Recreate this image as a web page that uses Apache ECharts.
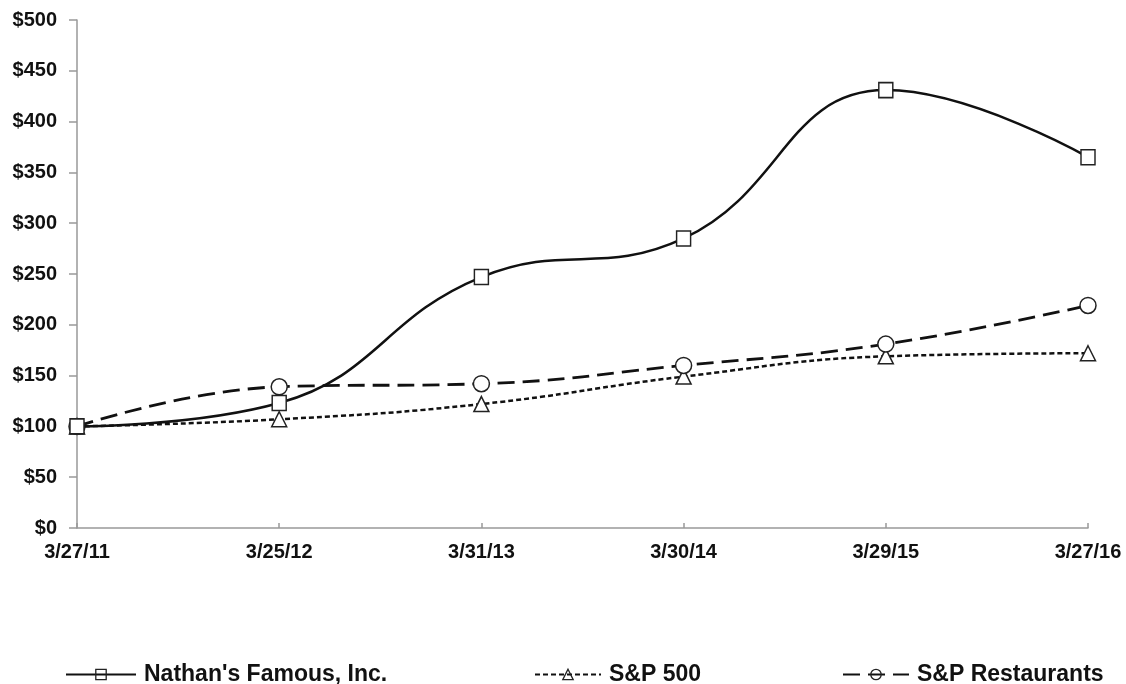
<!DOCTYPE html>
<html><head><meta charset="utf-8">
<script src="https://cdn.jsdelivr.net/npm/echarts@6/dist/echarts.min.js"></script>
<style>html,body{margin:0;padding:0;background:#fff}#c{width:1126px;height:684px}</style>
</head><body><div id="c"></div>
<script>
const categories = ['3/27/11','3/25/12','3/31/13','3/30/14','3/29/15','3/27/16'];
const nathans = [100, 123, 247, 285, 431, 365];
const sp500 = [100, 107, 122, 149, 169, 172];
const spRestaurants = [100, 139, 142, 160, 181, 219];
const seriesNames = ["Nathan's Famous, Inc.", 'S&P 500', 'S&P Restaurants'];

const FONT = '"Liberation Sans", Arial, sans-serif';
const INK = '#111';
const chart = echarts.init(document.getElementById('c'));
const markerStyle = {color:'#fff', borderColor:'#222', borderWidth:1.5};
function legend(name, left, w){
  return {data:[name], left:left, top:663, itemWidth:w, itemHeight:13, padding:0,
    itemStyle:{color:'rgba(255,255,255,0)', borderColor:'#222', borderWidth:1.3},
    textStyle:{fontFamily:FONT, fontWeight:'bold', fontSize:23, color:INK, padding:[0,0,0,3]},
    selectedMode:false};
}
chart.setOption({
  animation:false,
  backgroundColor:'#fff',
  grid:{left:77, right:38, top:20, bottom:156, containLabel:false},
  legend:[legend(seriesNames[0], 65, 70), legend(seriesNames[1], 534, 66), legend(seriesNames[2], 842, 66)],
  xAxis:{type:'category', data:categories, boundaryGap:false,
    axisLine:{lineStyle:{color:'#999', width:1.5}},
    axisTick:{show:true, inside:true, alignWithLabel:true, length:5, lineStyle:{color:'#999', width:1.5}},
    axisLabel:{fontFamily:FONT, fontWeight:'bold', fontSize:20, color:INK, margin:14, interval:0},
    splitLine:{show:false}},
  yAxis:{type:'value', min:0, max:500, interval:50,
    axisLine:{show:true, lineStyle:{color:'#999', width:1.5}},
    axisTick:{show:true, length:8, lineStyle:{color:'#999', width:1.5}},
    axisLabel:{fontFamily:FONT, fontWeight:'bold', fontSize:20, color:INK, margin:20,
      formatter:v=>'$'+v},
    splitLine:{show:false}},
  series:[
    {name:seriesNames[0], type:'line', data:nathans, smooth:0.45, symbol:'rect', symbolSize:[14,15],
      lineStyle:{color:'#111', width:2.5, type:'solid'}, itemStyle:markerStyle, z:5},
    {name:seriesNames[1], type:'line', data:sp500, smooth:0.45, symbol:'triangle', symbolSize:15,
      lineStyle:{color:'#111', width:2.5, type:[5,3]}, itemStyle:markerStyle, z:3},
    {name:seriesNames[2], type:'line', data:spRestaurants, smooth:0.45, symbol:'circle', symbolSize:16,
      lineStyle:{color:'#111', width:2.8, type:[17,8]}, itemStyle:markerStyle, z:4}
  ]
});
</script></body></html>
